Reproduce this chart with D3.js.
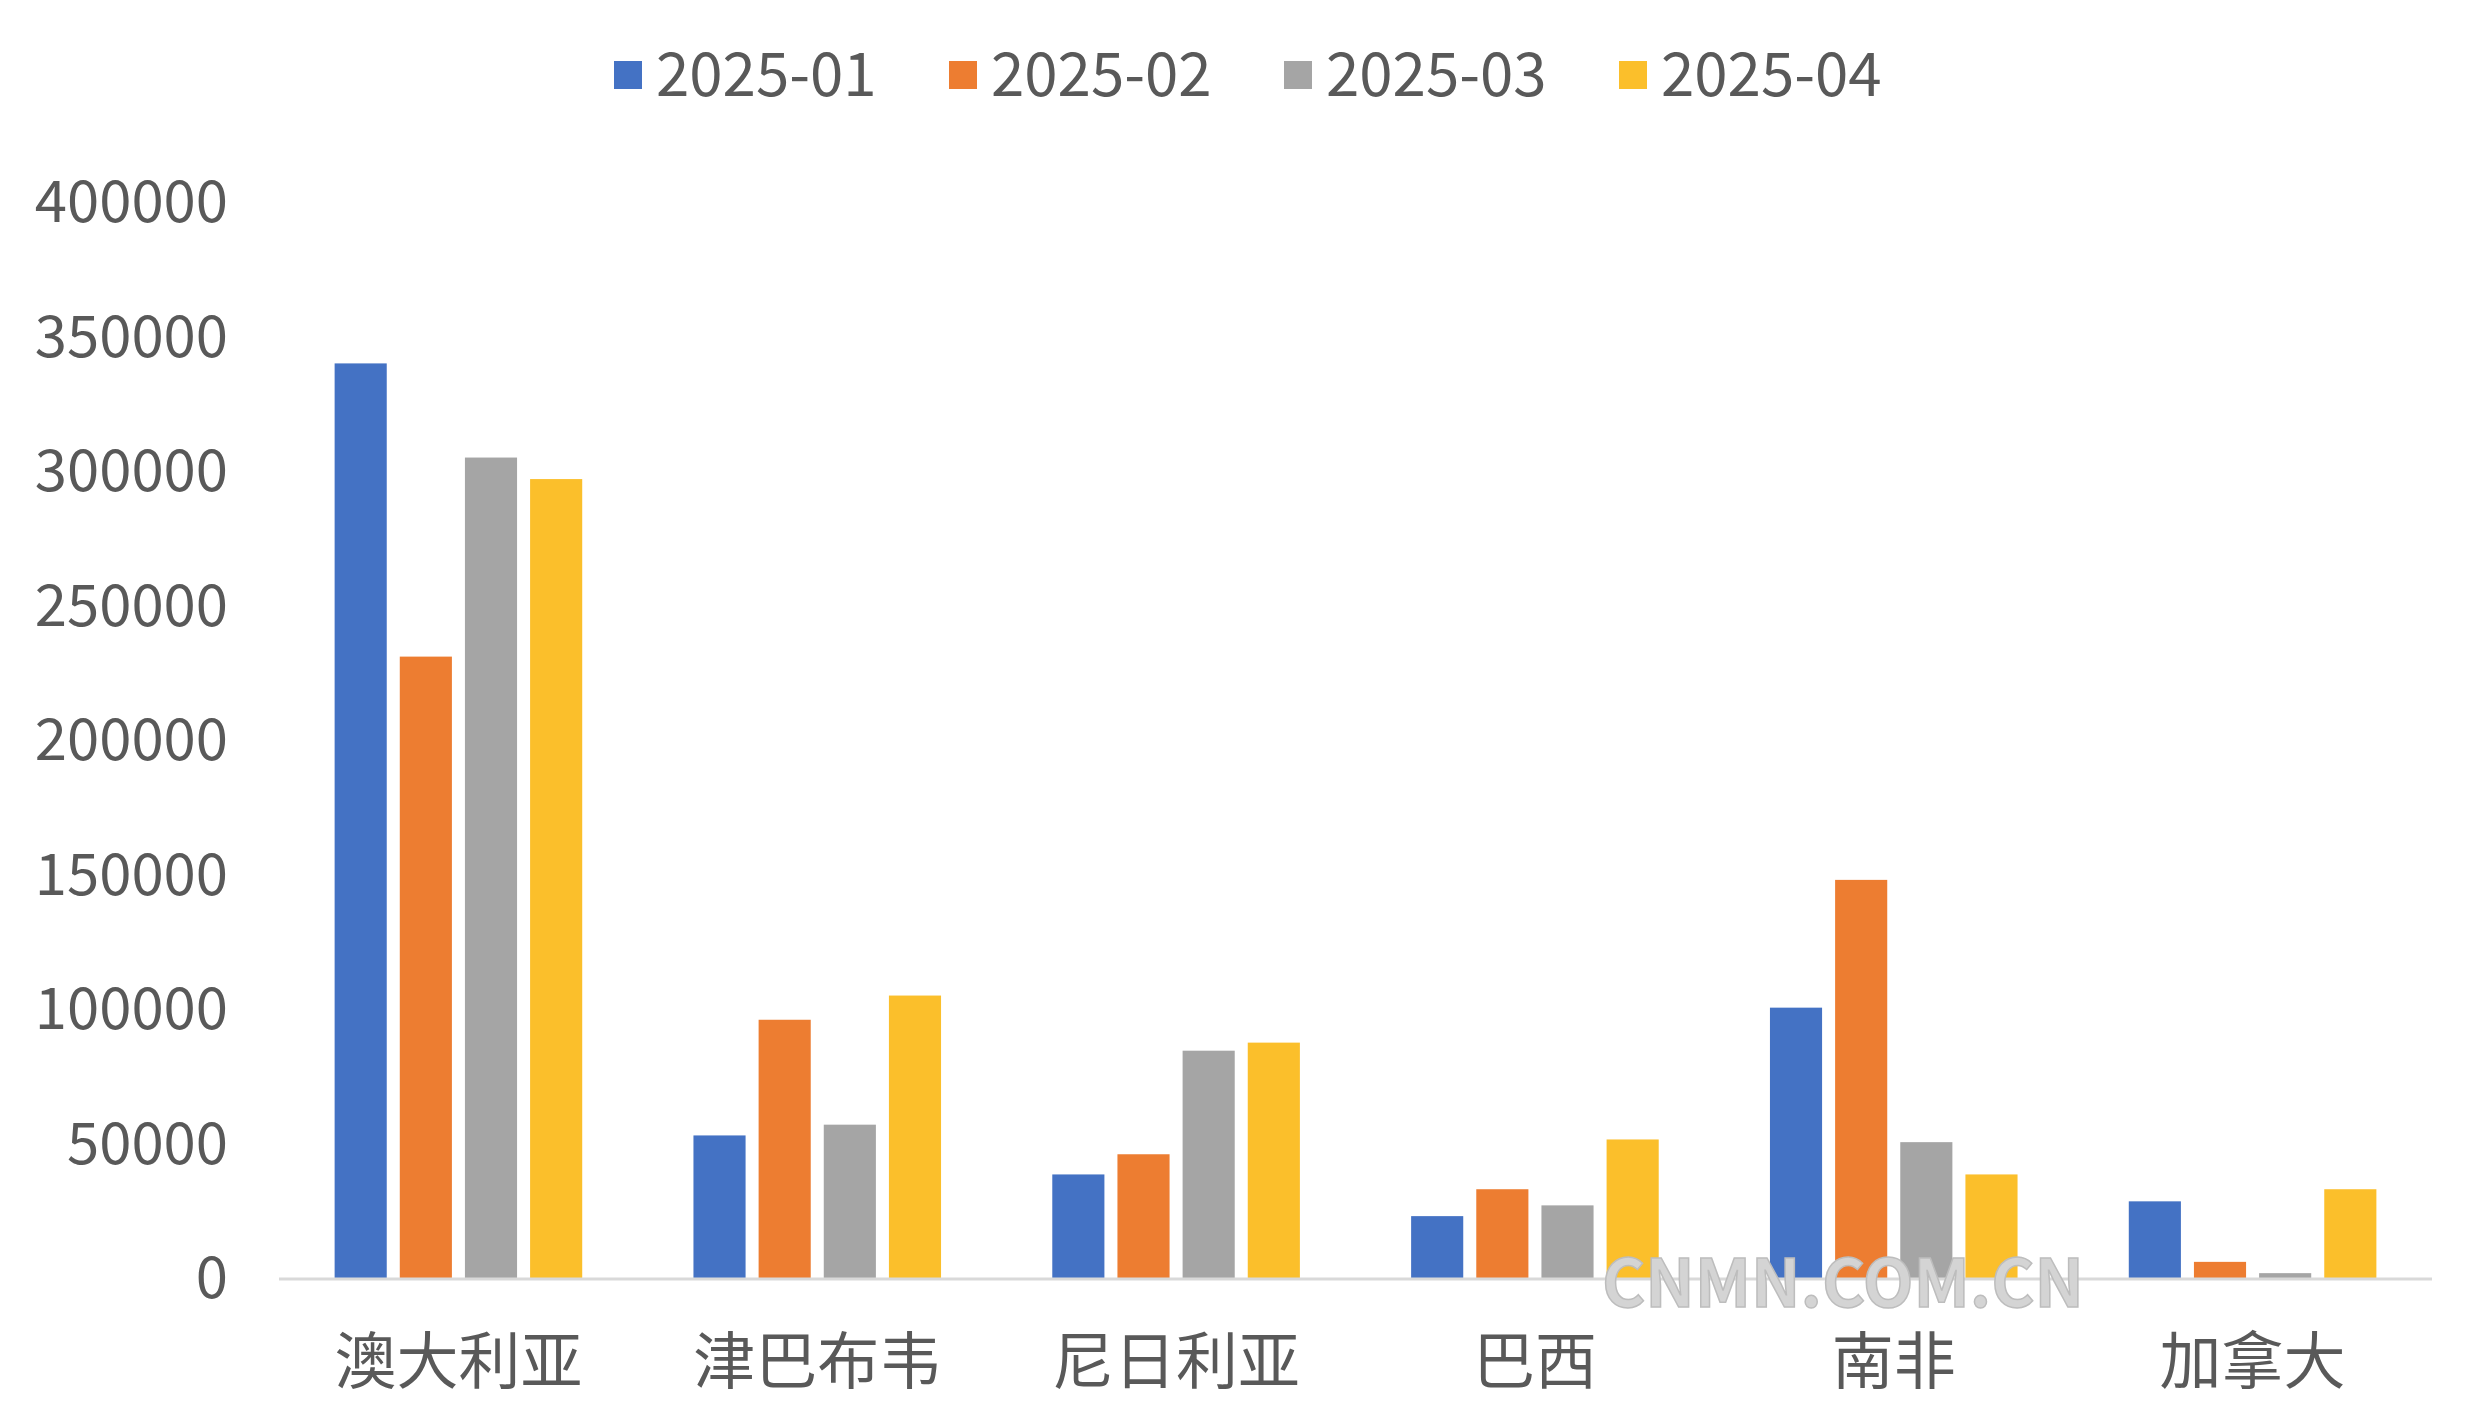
<!DOCTYPE html>
<html>
<head>
<meta charset="utf-8">
<script src="https://cdn.jsdelivr.net/npm/d3@7"></script>
<style>
  body { margin: 0; background: #fff; }
  text { font-family: "Noto Sans CJK SC", "Noto Sans", sans-serif; fill: #595959; }
</style>
</head>
<body>
<svg id="chart" width="2468" height="1417"></svg>
<script>
const categories = ["澳大利亚", "津巴布韦", "尼日利亚", "巴西", "南非", "加拿大"];
const seriesNames = ["2025-01", "2025-02", "2025-03", "2025-04"];
const colors = ["#4472c4", "#ed7d31", "#a5a5a5", "#fbbf2b"];
const s202501 = [340000, 53000, 38500, 23000, 100500, 28500];
const s202502 = [231000, 96000, 46000, 33000, 148000, 6000];
const s202503 = [305000, 57000, 84500, 27000, 50500, 1800];
const s202504 = [297000, 105000, 87500, 51500, 38500, 33000];
const yTicks = [0, 50000, 100000, 150000, 200000, 250000, 300000, 350000, 400000];

const series = [s202501, s202502, s202503, s202504];
const svg = d3.select("#chart");
const plotLeft = 279, plotRight = 2432, plotTop = 202, plotBottom = 1278;

const x = d3.scaleBand().domain(categories).range([plotLeft, plotRight]).paddingInner(0.31).paddingOuter(0.155);
const xs = d3.scaleBand().domain(d3.range(4)).range([0, x.bandwidth()]).paddingInner(0.2);
const y = d3.scaleLinear().domain([0, 400000]).range([plotBottom, plotTop]);

// y tick labels
svg.append("g").selectAll("text").data(yTicks).join("text")
  .attr("x", 228).attr("y", d => y(d)).attr("dy", "0.35em")
  .attr("text-anchor", "end").attr("font-size", 58).text(d => d);

// bars
categories.forEach((c, i) => {
  series.forEach((s, k) => {
    svg.append("rect")
      .attr("x", x(c) + xs(k)).attr("width", xs.bandwidth())
      .attr("y", y(s[i])).attr("height", y(0) - y(s[i]))
      .attr("fill", colors[k]);
  });
});

// baseline
svg.append("line").attr("x1", plotLeft).attr("x2", plotRight).attr("y1", y(0) + 1).attr("y2", y(0) + 1)
  .attr("stroke", "#d9d9d9").attr("stroke-width", 3);

// category labels
svg.append("g").selectAll("text").data(categories).join("text")
  .attr("x", d => x(d) + x.bandwidth() / 2).attr("y", 1362).attr("dy", "0.35em")
  .attr("text-anchor", "middle").attr("font-size", 62).text(d => d);

// legend
const lg = svg.append("g").selectAll("g").data(seriesNames).join("g")
  .attr("transform", (d, i) => `translate(${614 + i * 335},75)`);
lg.append("rect").attr("x", 0).attr("y", -14).attr("width", 28).attr("height", 28).attr("fill", (d, i) => colors[i]);
lg.append("text").attr("x", 42).attr("dy", "0.35em").attr("font-size", 60).text(d => d);

// watermark
svg.append("text").attr("x", 1843).attr("y", 1284).attr("dy", "0.35em").attr("text-anchor", "middle")
  .attr("font-family", "Liberation Sans Narrow, Liberation Sans, sans-serif").attr("font-weight", "bold")
  .attr("font-size", 66).style("fill", "#d4d4d4").attr("stroke", "#bdbdbd").attr("stroke-width", 1.5)
  .text("CNMN.COM.CN");
</script>
</body>
</html>
